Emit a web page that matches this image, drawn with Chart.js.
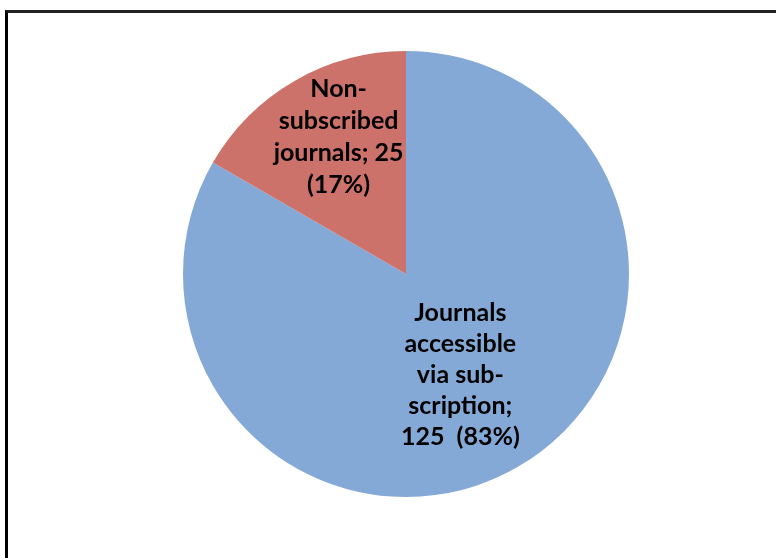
<!DOCTYPE html>
<html>
<head>
<meta charset="utf-8">
<script src="https://cdn.jsdelivr.net/npm/chart.js@4/dist/chart.umd.min.js"></script>
<style>
  html, body { margin: 0; padding: 0; background: #fff; }
  #wrap { position: relative; width: 776px; height: 558px; overflow: hidden; }
  #frame { position: absolute; left: 5px; top: 10px; width: 800px; height: 600px;
           border-top: 3px solid #222; border-left: 3px solid #000; }
  canvas { position: absolute; left: 0; top: 0; }
</style>
</head>
<body>
<div id="wrap">
  <div id="frame"></div>
  <canvas id="pie" width="776" height="558"></canvas>
</div>
<script>
// chart data
const categories = ['Journals accessible via subscription', 'Non-subscribed journals'];
const counts = [125, 25];
const sliceColors = ['#85A9D6', '#CD716B'];
const labelLines = [
  ['Journals', 'accessible', 'via sub-', 'scription;', '125  (83%)'],
  ['Non-', 'subscribed', 'journals; 25', '(17%)']
];

// where the label sits along the slice mid-angle (fraction of radius), plus nudges
const labelPos = [
  { r: 0.523, dx: -4, dy: 0, lh: 31 },
  { r: 0.712, dx: 12, dy: 0, lh: 32 }
];

const sliceLabels = {
  id: 'sliceLabels',
  afterDatasetsDraw(chart) {
    const ctx = chart.ctx;
    const meta = chart.getDatasetMeta(0);
    ctx.save();
    ctx.font = 'bold 25px Lato, "Open Sans", sans-serif';
    ctx.fillStyle = '#000';
    ctx.textAlign = 'center';
    ctx.textBaseline = 'middle';
    meta.data.forEach((arc, i) => {
      const p = labelPos[i];
      const mid = (arc.startAngle + arc.endAngle) / 2;
      const rr = arc.outerRadius * p.r;
      const cx = arc.x + Math.cos(mid) * rr + p.dx;
      const cy = arc.y + Math.sin(mid) * rr + p.dy;
      const lines = labelLines[i];
      const y0 = cy - (lines.length - 1) * p.lh / 2;
      lines.forEach((t, k) => ctx.fillText(t, cx, y0 + k * p.lh));
    });
    ctx.restore();
  }
};

new Chart(document.getElementById('pie'), {
  type: 'pie',
  data: {
    labels: categories,
    datasets: [{
      data: counts,
      backgroundColor: sliceColors,
      borderWidth: 0
    }]
  },
  options: {
    responsive: false,
    animation: false,
    layout: { padding: { left: 183, right: 147, top: 51, bottom: 61 } },
    plugins: {
      legend: { display: false },
      tooltip: { enabled: false }
    }
  },
  plugins: [sliceLabels]
});
</script>
</body>
</html>
